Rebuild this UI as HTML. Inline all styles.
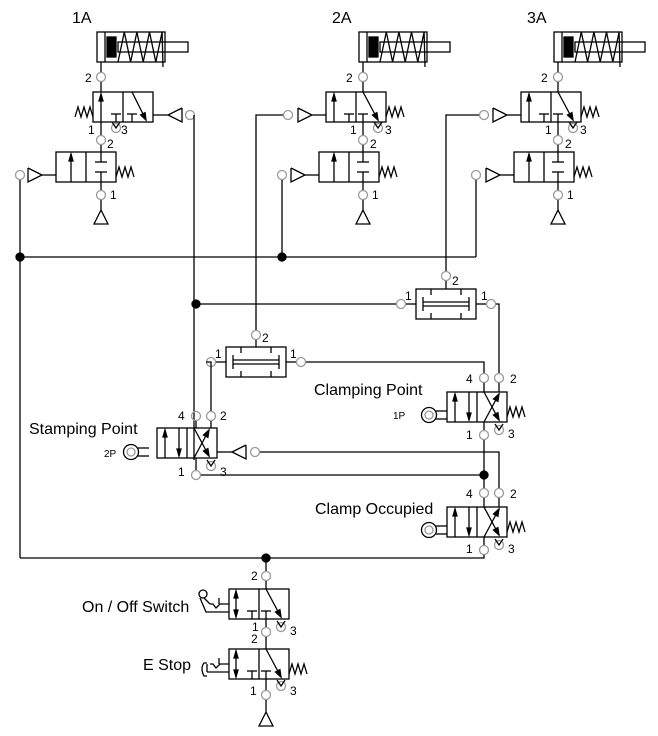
<!DOCTYPE html>
<html><head><meta charset="utf-8"><style>
html,body{margin:0;padding:0;background:#fff;}
svg{display:block;}
text{font-family:"Liberation Sans",sans-serif;fill:#000;}
</style></head><body>
<svg id="s" width="658" height="736" viewBox="0 0 658 736" xmlns="http://www.w3.org/2000/svg" stroke-linecap="butt">
<g id="g" fill="none" stroke="#000" stroke-width="1.3"></g>
<g font-size="16">
<text x="72" y="23">1A</text><text x="332" y="23">2A</text><text x="527" y="23">3A</text>
<text x="314" y="395">Clamping Point</text>
<text x="29" y="434">Stamping Point</text>
<text x="315" y="514">Clamp Occupied</text>
<text x="82" y="612">On / Off Switch</text>
<text x="143" y="670">E Stop</text>
</g>
<g font-size="12" id="t">
<text x="85" y="82">2</text><text x="88" y="134">1</text><text x="121" y="134">3</text><text x="107" y="148">2</text><text x="110" y="199">1</text>
<text x="346" y="82">2</text><text x="350" y="134">1</text><text x="385" y="134">3</text><text x="370" y="148">2</text><text x="372" y="199">1</text>
<text x="541" y="82">2</text><text x="545" y="134">1</text><text x="580" y="134">3</text><text x="565" y="148">2</text><text x="567" y="199">1</text>
<text x="452" y="285">2</text><text x="405" y="300">1</text><text x="481" y="300">1</text>
<text x="262" y="342">2</text><text x="215" y="358">1</text><text x="290" y="358">1</text>
<text x="466" y="383">4</text><text x="510" y="383">2</text><text x="466" y="439">1</text><text x="508" y="438">3</text>
<text x="178" y="420">4</text><text x="220" y="420">2</text><text x="178" y="476">1</text><text x="220" y="476">3</text>
<text x="466" y="498">4</text><text x="510" y="498">2</text><text x="466" y="553">1</text><text x="508" y="553">3</text>
<text x="251" y="580">2</text><text x="252" y="631">1</text><text x="290" y="635">3</text><text x="251" y="643">2</text>
<text x="250" y="695">1</text><text x="290" y="695">3</text>
<text x="393" y="419" font-size="10">1P</text><text x="104" y="457" font-size="10">2P</text>
</g>
</svg>
<script>
var g=document.getElementById('g'),h='';
function L(p){h+='<polyline points="'+p+'"/>';}
function R(x,y,w,hh){h+='<rect x="'+x+'" y="'+y+'" width="'+w+'" height="'+hh+'"/>';}
function C(x,y){h+='<circle cx="'+x+'" cy="'+y+'" r="4.5" stroke="#999"/>';}
function D(x,y){h+='<circle cx="'+x+'" cy="'+y+'" r="4" fill="#000"/>';}
function spring(x,y,d){var p=[];for(var i=0;i<=6;i++){p.push((x+d*i*3)+','+(y+(i%2?-10:0)+5));}L(p.join(' '));}
function tri(x,y,d){ if(d>0)L(x+','+(y-7)+' '+(x+14)+','+y+' '+x+','+(y+7)+' '+x+','+(y-7));else L(x+','+(y-7)+' '+(x-14)+','+y+' '+x+','+(y+7)+' '+x+','+(y-7));}
function sup(x,y){L(x+','+y+' '+(x-7)+','+(y+14)+' '+(x+7)+','+(y+14)+' '+x+','+y);}
function arrowUp(x,y1,y2){L(x+','+y1+' '+x+','+y2);h+='<polygon points="'+x+','+y2+' '+(x-2)+','+(y2+7)+' '+(x+2)+','+(y2+7)+'" fill="#000"/>';}
function arrowDn(x,y1,y2){L(x+','+y1+' '+x+','+y2);h+='<polygon points="'+x+','+y2+' '+(x-2)+','+(y2-7)+' '+(x+2)+','+(y2-7)+'" fill="#000"/>';}
function diag(x1,y1,x2,y2){L(x1+','+y1+' '+x2+','+y2);var a=Math.atan2(y2-y1,x2-x1),c=Math.cos(a),s=Math.sin(a);h+='<polygon points="'+x2+','+y2+' '+(x2-7*c+2.5*s)+','+(y2-7*s-2.5*c)+' '+(x2-7*c-2.5*s)+','+(y2-7*s+2.5*c)+'" fill="#000"/>';}
function tee(x,y){L((x-5)+','+y+' '+(x+5)+','+y);L(x+','+y+' '+x+','+(y+8));}
function exh(x,y){C(x,y);L((x-4)+','+(y-6)+' '+x+','+(y)+' '+(x+4)+','+(y-6));}
function cyl(x,y){R(x,y,68,30);L((x+8)+','+y+' '+(x+8)+','+(y+30));h+='<rect x="'+(x+10)+'" y="'+(y+5)+'" width="9" height="20" fill="#000"/>';
 R(x+21,y+10,70,10);var p=[];for(var i=0;i<=7;i++)p.push((x+21+i*6.3)+','+(i%2?y:y+30));L(p.join(' ')+' '+(x+66)+','+(y+35));}
function v32(x,y,px){R(x,y,60,30);L((x+30)+','+y+' '+(x+30)+','+(y+30));arrowUp(x+8,y+30,y+2);tee(x+23,y+22);tee(px,y+22);diag(px,y,px+15,y+28);}
function v32m(x,y,px){R(x,y,60,30);L((x+30)+','+y+' '+(x+30)+','+(y+30));arrowUp(px,y+30,y+2);tee(px+15,y+22);tee(px+31,y+22);diag(px+31,y,px+45,y+28);}
function v22(x,y,px){R(x,y,60,30);L((x+30)+','+y+' '+(x+30)+','+(y+30));arrowUp(x+15,y+30,y+2);L((px-6)+','+(y+10)+' '+(px+6)+','+(y+10));L(px+','+y+' '+px+','+(y+10));L((px-6)+','+(y+20)+' '+(px+6)+','+(y+20));L(px+','+(y+20)+' '+px+','+(y+30));}
function v42(x,y){R(x,y,60,30);L((x+30)+','+y+' '+(x+30)+','+(y+30));arrowUp(x+8,y+30,y+2);arrowDn(x+22,y,y+28);diag(x+37,y+30,x+52,y+2);diag(x+37,y,x+52,y+28);}
function roller(x,y){h+='<circle cx="'+x+'" cy="'+y+'" r="7.5"/><circle cx="'+x+'" cy="'+y+'" r="4" stroke="#999"/>';L((x+7)+','+(y-4)+' '+(x+18)+','+(y-4));L((x+7)+','+(y+4)+' '+(x+18)+','+(y+4));}
function shuttle(x,y){R(x,y,60,30);L((x+7)+','+(y+8)+' '+(x+7)+','+(y+22));L((x+53)+','+(y+8)+' '+(x+53)+','+(y+22));L((x+7)+','+(y+13)+' '+(x+53)+','+(y+13));L((x+7)+','+(y+17)+' '+(x+53)+','+(y+17));L((x+15)+','+y+' '+(x+15)+','+(y+6));L((x+45)+','+y+' '+(x+45)+','+(y+6));L((x+15)+','+(y+30)+' '+(x+15)+','+(y+24));L((x+45)+','+(y+30)+' '+(x+45)+','+(y+24));}
function group(m,cx,vx,v2x){
 var px=cx+4;cyl(cx,32);L(px+',62 '+px+',72');C(px,77);L(px+',82 '+px+',92');
 if(m)v32m(vx,92,px);else v32(vx,92,px);L(px+',122 '+px+',135');C(px,140);L(px+',145 '+px+',152');exh(px+15,128);
 v22(v2x,152,px);L(px+',182 '+px+',190');C(px,195);L(px+',200 '+px+',210');sup(px,210);
}
// 1A
group(1,97,93,56);spring(93,112,-1);tri(182,115,-1);L('153,115 168,115');C(190,115);L('194,115 194,460');
tri(28,175,1);L('42,175 56,175');C(20,175);L('20,180 20,558');spring(116,172,1);
// 2A
group(0,359,326,319);spring(386,112,1);tri(298,115,1);L('312,115 326,115');C(288,115);L('283,115 256,115 256,330');
tri(291,175,1);L('305,175 319,175');C(282,175);L('282,180 282,257');spring(379,172,1);
// 3A
group(0,554,521,514);spring(581,112,1);tri(493,115,1);L('507,115 521,115');C(484,115);L('479,115 446,115 446,271');
tri(486,175,1);L('500,175 514,175');C(476,175);L('476,180 476,257');spring(574,172,1);
L('20,257 476,257');D(20,257);D(282,257);
// shuttles
shuttle(416,289);C(446,276);L('446,281 446,289');C(401,304);L('396,304 194,304');L('406,304 416,304');D(196,304);C(491,304);L('476,304 486,304');L('496,304 499,304 499,373');
shuttle(226,347);C(256,335);L('256,340 256,347');C(211,362);L('216,362 226,362');L('206,362 211,362 211,411');C(301,362);L('286,362 296,362');L('306,362 484,362 484,373');
// clamping point
v42(447,392);C(484,378);C(499,378);L('484,383 484,392');L('499,383 499,392');spring(507,412,1);roller(429,415);exh(499,430);
L('484,422 484,430');C(484,435);L('484,440 484,488');D(484,475);
// stamping
v42(157,428);C(196,416);C(211,416);L('196,421 196,428');L('211,421 211,428');roller(131,452);exh(211,466);
L('196,458 196,470');C(196,475);L('201,475 484,475');
tri(246,452,-1);L('217,452 232,452');C(255,452);L('260,452 499,452 499,488');
// clamp occupied
v42(447,507);C(484,493);C(499,493);L('484,498 484,507');L('499,498 499,507');spring(507,527,1);roller(429,530);exh(499,545);
L('484,537 484,545');C(484,550);L('484,555 484,558 20,558');D(266,558);
// on/off
L('266,558 266,571');C(266,576);L('266,581 266,589');
R(229,589,60,30);L('259,589 259,619');L('236,591 236,617');h+='<polygon points="236,591 234,598 238,598" fill="#000"/><polygon points="236,617 234,610 238,610" fill="#000"/>';
tee(252,611);tee(266,611);diag(266,589,281,617);exh(281,627);L('266,619 266,627');C(266,632);L('266,637 266,649');
L('229,604 220,604 216,608 213,604 210,604');L('219,598 219,604');L('210,604 204,598');h+='<circle cx="203" cy="594" r="4"/>';L('229,612 206,612 200,598');
// e stop
R(229,649,60,30);L('259,649 259,679');L('236,651 236,677');h+='<polygon points="236,651 234,658 238,658" fill="#000"/><polygon points="236,677 234,670 238,670" fill="#000"/>';
tee(252,671);tee(266,671);diag(266,649,281,677);exh(281,686);spring(289,669,1);
L('229,664 220,664 216,668 213,664 210,664');L('219,658 219,664');L('229,672 207,672');L('207,664 207,672');h+='<path d="M207,663 L204,663 Q200,668 204,676 L207,676"/>';
L('266,679 266,690');C(266,695);L('266,700 266,712');sup(266,712);
g.innerHTML=h;
</script>
</body></html>
